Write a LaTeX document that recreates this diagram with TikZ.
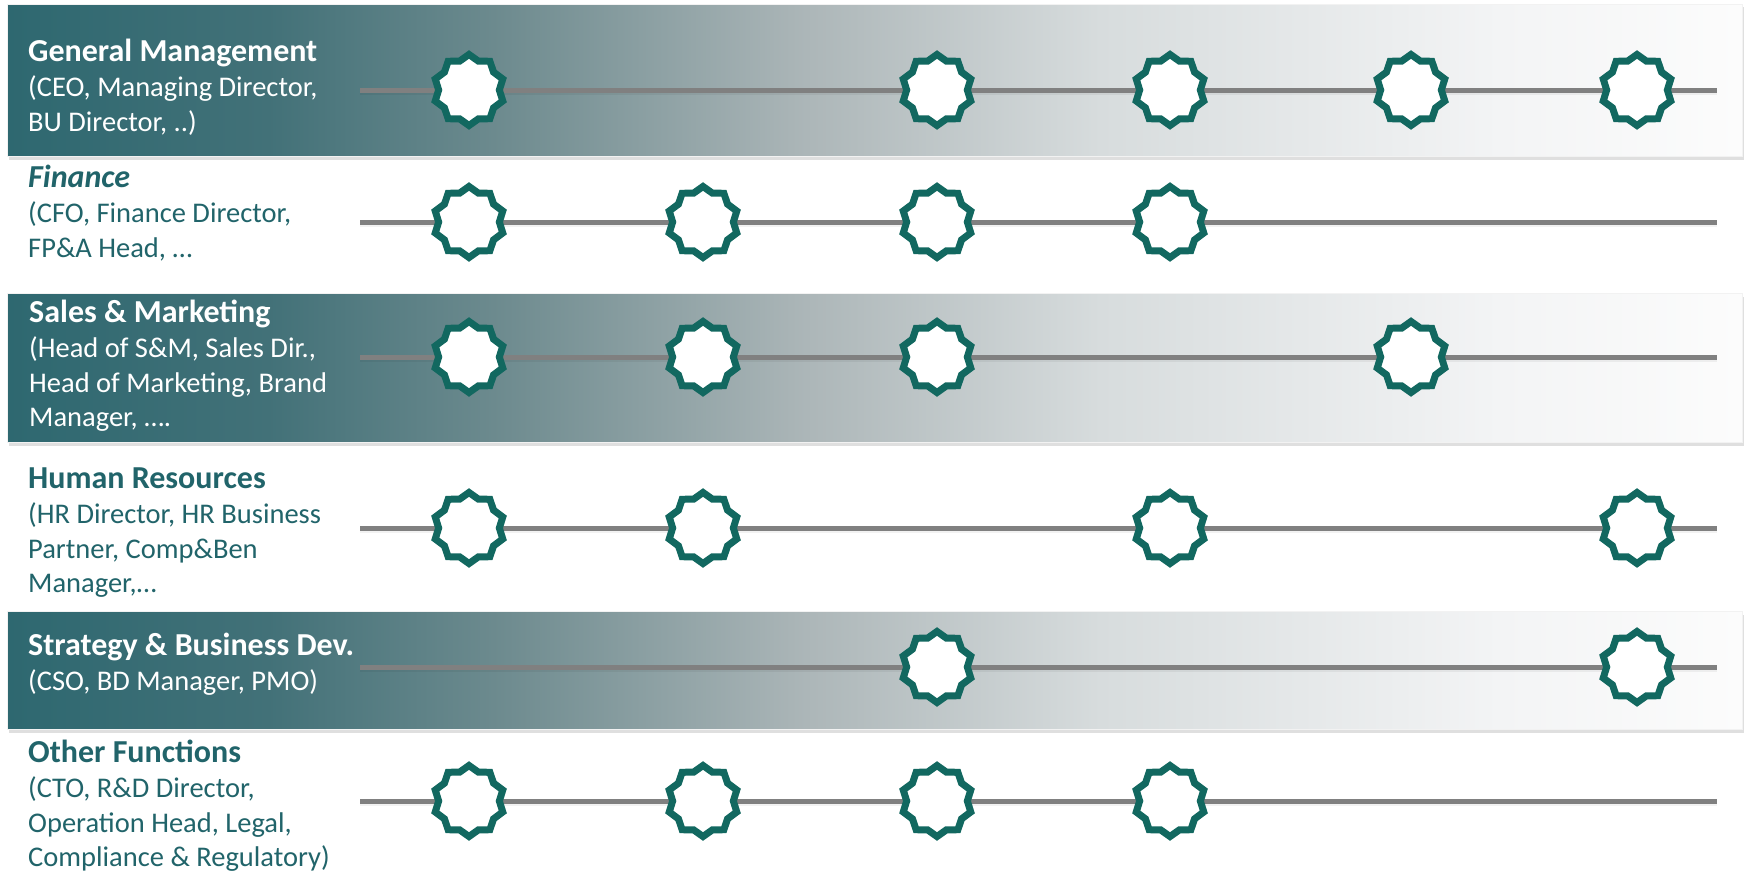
\documentclass[tikz,border=0pt]{standalone}
\usepackage{fontspec}
\setmainfont{Carlito}
\usetikzlibrary{shapes.geometric,shadows}

% palette
\definecolor{bandA}{RGB}{46,104,112}
\definecolor{bandB}{RGB}{66,113,120}
\definecolor{bandC}{RGB}{108,138,142}
\definecolor{bandD}{RGB}{172,182,184}
\definecolor{bandE}{RGB}{215,220,221}
\definecolor{bandF}{RGB}{243,244,245}
\definecolor{bandG}{RGB}{252,252,252}
\definecolor{labelteal}{RGB}{33,100,106}
\definecolor{starteal}{RGB}{18,104,96}
\definecolor{trackgray}{RGB}{128,128,128}

% left-to-right fade used by the highlighted bands
\pgfdeclarehorizontalshading{bandfade}{100bp}{%
  color(0bp)=(bandA); color(25bp)=(bandA); color(32.5bp)=(bandB);
  color(39bp)=(bandC); color(48bp)=(bandD); color(56.5bp)=(bandE);
  color(68bp)=(bandF); color(75bp)=(bandG); color(100bp)=(bandG)}

% a label block: larger bold title line followed by plain lines, baseline = first line
\newcommand\fnlabel[2]{\vtop{\baselineskip=34.6pt
  \hbox{\fontsize{32}{34.6}\selectfont #1}\vskip1pt #2}}
\newcommand\fline[1]{\hbox{#1}}

\tikzset{
  band/.style={rectangle, anchor=north west, inner sep=0pt,
    minimum width=1735pt, shading=bandfade, draw=white!90!gray, line width=1pt,
    drop shadow={opacity=0.25, shadow xshift=1pt, shadow yshift=-3pt}},
  labeltext/.style={anchor=base west, inner sep=0pt, font=\fontsize{28.5}{34.6}\selectfont},
  onband/.style={labeltext, text=white},
  offband/.style={labeltext, text=labelteal},
  track/.style={draw=trackgray, line width=5pt},
  trackshade/.style={draw=black, opacity=0.05, line width=6pt},
  milestone/.style={star, star points=10, star point ratio=1.17, minimum size=71pt,
    inner sep=0pt, draw=starteal, fill=white, line width=7pt, line join=miter,
    drop shadow={opacity=0.22, shadow xshift=1.5pt, shadow yshift=-3pt}}
}

\begin{document}
\begin{tikzpicture}[x=1pt,y=-1pt]
\useasboundingbox[fill=white] (0,0) rectangle (1747,875);

% highlighted bands
\node[band, minimum height=152pt] (gmband) at (7,4) {};
\node[band, minimum height=149pt] (smband) at (7,293) {};
\node[band, minimum height=118pt] (sdband) at (7,611) {};

% function labels
\node[onband] (gm) at (28,61) {\fnlabel{\bfseries General Management}{%
  \fline{(CEO, Managing Director,}\fline{BU Director, ..)}}};
\node[offband] (fi) at (28,187) {\fnlabel{\bfseries\itshape Finance}{%
  \fline{(CFO, Finance Director,}\fline{FP\&A Head, …}}};
\node[onband] (sm) at (29,322) {\fnlabel{\bfseries Sales \& Marketing}{%
  \fline{(Head of S\&M, Sales Dir.,}\fline{Head of Marketing, Brand}\fline{Manager, ….}}};
\node[offband] (hr) at (28,488) {\fnlabel{\bfseries Human Resources}{%
  \fline{(HR Director, HR Business}\fline{Partner, Comp\&Ben}\fline{Manager,…}}};
\node[onband] (sd) at (28,655) {\fnlabel{\bfseries Strategy \& Business Dev.}{%
  \fline{(CSO, BD Manager, PMO)}}};
\node[offband] (of) at (28,762) {\fnlabel{\bfseries Other Functions}{%
  \fline{(CTO, R\&D Director,}\fline{Operation Head, Legal,}\fline{Compliance \& Regulatory)}}};

% tracks and milestones
\foreach \r/\y/\cols in {1/90/{1,3,4,5,6}, 2/222/{1,2,3,4}, 3/357/{1,2,3,5},
                         4/528/{1,2,4,6}, 5/667/{3,6}, 6/801/{1,2,3,4}}{
  \coordinate (t\r a) at (360,\y);
  \coordinate (t\r b) at (1717,\y);
  \draw[trackshade] ([yshift=-2pt]t\r a) -- ([yshift=-2pt]t\r b);
  \draw[track] (t\r a) -- (t\r b);
  \foreach \c in \cols {
    \pgfmathsetmacro\cx{{469,703,937,1170,1411,1637}[\c-1]}
    \node[milestone] (s\r\c) at (\cx,\y) {};
  }
}
\end{tikzpicture}
\end{document}
